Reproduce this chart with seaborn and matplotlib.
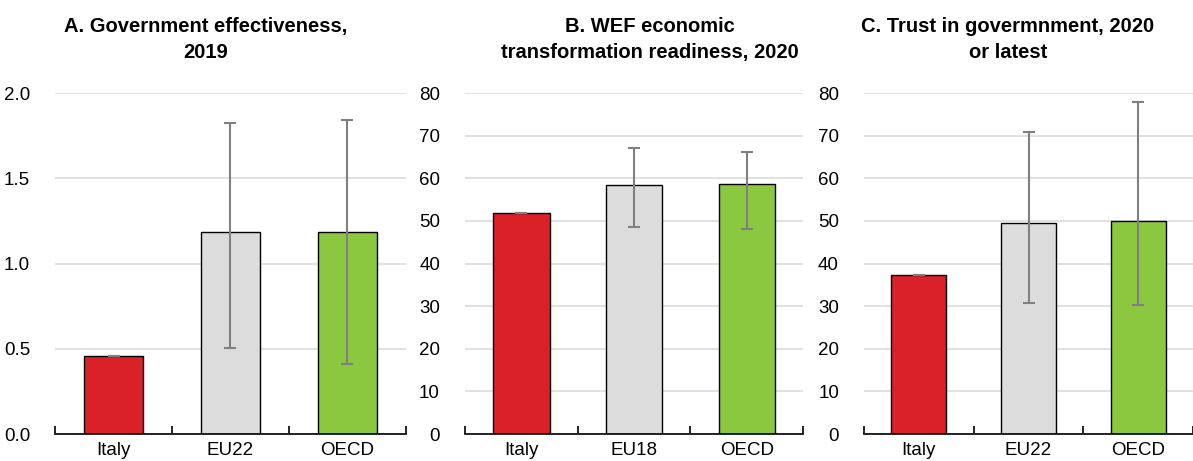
import matplotlib
matplotlib.use("Agg")
import matplotlib.pyplot as plt
from matplotlib import font_manager
import seaborn as sns
import pandas as pd
import numpy as np

sns.set_theme(style="white")
names = {f.name for f in font_manager.fontManager.ttflist}
narrow = "Liberation Sans Narrow" if "Liberation Sans Narrow" in names else "Liberation Sans"
plt.rcParams["font.family"] = [narrow, "DejaVu Sans"]
plt.rcParams["text.color"] = "black"
plt.rcParams["xtick.color"] = "black"
plt.rcParams["ytick.color"] = "black"

# Panel A: government effectiveness, 2019
cats_a = ["Italy", "EU22", "OECD"]
vals_a = [0.46, 1.185, 1.185]
lo_a = [0.46, 0.505, 0.412]
hi_a = [0.46, 1.825, 1.842]

# Panel B: WEF economic transformation readiness, 2020
cats_b = ["Italy", "EU18", "OECD"]
vals_b = [51.8, 58.5, 58.7]
lo_b = [51.8, 48.5, 48.0]
hi_b = [51.8, 67.0, 66.2]

# Panel C: trust in government, 2020 or latest
cats_c = ["Italy", "EU22", "OECD"]
vals_c = [37.3, 49.5, 49.9]
lo_c = [37.3, 30.8, 30.3]
hi_c = [37.3, 70.8, 78.0]

titles = ["A. Government effectiveness,\n2019",
          "B. WEF economic\ntransformation readiness, 2020",
          "C. Trust in govermnment, 2020\nor latest"]
yticks = [np.arange(0, 2.01, 0.5), np.arange(0, 81, 10), np.arange(0, 81, 10)]
ytick_fmt = ["{:.1f}", "{:.0f}", "{:.0f}"]
colors = ["#DA2128", "#DCDCDC", "#8CC83F"]

fig = plt.figure(figsize=(11.93, 4.61), dpi=100)
boxes = [(55, 406), (465, 803), (864, 1193)]
title_x = [206, 650, 1008]
W, H = 1193, 461
bottom_px, top_px = 434, 93

panels = [(cats_a, vals_a, lo_a, hi_a), (cats_b, vals_b, lo_b, hi_b), (cats_c, vals_c, lo_c, hi_c)]
for i, ((cats, vals, lo, hi), (x0, x1)) in enumerate(zip(panels, boxes)):
    ax = fig.add_axes([x0 / W, 1 - bottom_px / H, (x1 - x0) / W, (bottom_px - top_px) / H])
    df = pd.DataFrame({"cat": cats, "val": vals})
    sns.barplot(data=df, x="cat", y="val", hue="cat", palette=colors, order=cats,
                saturation=1, width=0.5, edgecolor="black", linewidth=1.0,
                legend=False, ax=ax, zorder=2)
    v = np.array(vals)
    yerr = np.vstack([v - np.array(lo), np.array(hi) - v])
    ax.errorbar(np.arange(len(cats)), v, yerr=yerr, fmt="none", ecolor="#808080",
                elinewidth=1.5, capsize=4.5, capthick=1.5, zorder=3)
    ax.set_xlim(-0.5, 2.5)
    ax.set_ylim(yticks[i][0], yticks[i][-1])
    ax.set_yticks(yticks[i])
    ax.set_yticklabels([ytick_fmt[i].format(t) for t in yticks[i]], fontsize=13.5)
    ax.yaxis.grid(True, color="#DCDCDC", linewidth=1.2, zorder=0)
    ax.set_axisbelow(True)
    ax.set_xlabel("")
    ax.set_ylabel("")
    for s in ["left", "right", "top"]:
        ax.spines[s].set_visible(False)
    ax.spines["bottom"].set_color("black")
    ax.spines["bottom"].set_linewidth(1.2)
    ax.tick_params(axis="y", left=False, length=0, pad=18, labelcolor="black")
    ax.set_xticks(range(len(cats)))
    ax.set_xticklabels(cats, fontsize=13.5)
    ax.tick_params(axis="x", which="major", bottom=False, length=0, pad=6, labelcolor="black")
    # boundary tick marks between categories
    ax.set_xticks([-0.5, 0.5, 1.5, 2.5], minor=True)
    ax.tick_params(axis="x", which="minor", bottom=True, direction="in", length=6,
                   width=1.2, color="black")
    fig.text(title_x[i] / W, 1 - 17 / H, titles[i], ha="center", va="top",
             fontsize=14.5, fontweight="bold", linespacing=1.45, color="black")

fig.savefig("out.png", dpi=100)
